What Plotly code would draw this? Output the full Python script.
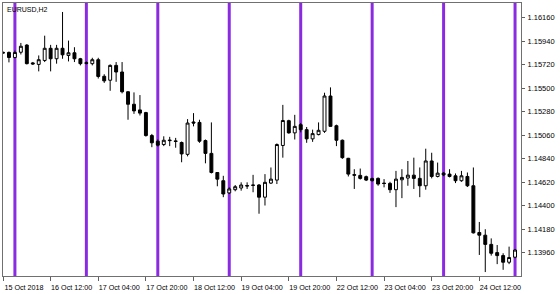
import pandas as pd
import plotly.graph_objects as go

symbol_label = "EURUSD,H2"

open_ = [1.15835, 1.15834, 1.15787, 1.15836, 1.15903, 1.15736, 1.15722, 1.15759, 1.15873, 1.15775,
         1.15873, 1.15806, 1.15831, 1.15775, 1.15738, 1.15729, 1.15766, 1.15611, 1.15574, 1.15713,
         1.15651, 1.15466, 1.15349, 1.15296, 1.15271, 1.15056, 1.15003, 1.14972, 1.15014, 1.15006,
         1.14991, 1.14880, 1.15183, 1.15179, 1.15009, 1.14889, 1.14710, 1.14633, 1.14519, 1.14549,
         1.14565, 1.14588, 1.14593, 1.14593, 1.14479, 1.14611, 1.14639, 1.14963, 1.15195, 1.15081,
         1.15158, 1.15111, 1.15025, 1.15065, 1.15096, 1.15426, 1.15148, 1.15012, 1.14843, 1.14690,
         1.14683, 1.14671, 1.14653, 1.14655, 1.14611, 1.14608, 1.14549, 1.14642, 1.14658, 1.14685,
         1.14655, 1.14586, 1.14818, 1.14673, 1.14704, 1.14695, 1.14679, 1.14633, 1.14673, 1.14586,
         1.14148, 1.14123, 1.14037, 1.13960, 1.13932, 1.13870, 1.13917]
high_ = [1.15843, 1.15843, 1.15852, 1.15923, 1.15912, 1.15745, 1.15806, 1.15991, 1.15905, 1.15905,
         1.16213, 1.15945, 1.15883, 1.15783, 1.15750, 1.15784, 1.15784, 1.15630, 1.15722, 1.15744,
         1.15744, 1.15472, 1.15460, 1.15435, 1.15278, 1.15071, 1.15019, 1.15049, 1.15044, 1.15034,
         1.15000, 1.15210, 1.15266, 1.15204, 1.15019, 1.15179, 1.14713, 1.14679, 1.14571, 1.14593,
         1.14618, 1.14618, 1.14688, 1.14602, 1.14695, 1.14757, 1.14982, 1.15343, 1.15204, 1.15250,
         1.15173, 1.15136, 1.15111, 1.15179, 1.15457, 1.15507, 1.15158, 1.15019, 1.14847, 1.14741,
         1.14747, 1.14681, 1.14662, 1.14664, 1.14648, 1.14623, 1.14725, 1.14741, 1.14818, 1.14849,
         1.14757, 1.14933, 1.14895, 1.14803, 1.14713, 1.14741, 1.14701, 1.14725, 1.14710, 1.14757,
         1.14247, 1.14179, 1.14093, 1.14031, 1.13954, 1.14016, 1.13994]
low_ = [1.15824, 1.15741, 1.15778, 1.15815, 1.15722, 1.15718, 1.15657, 1.15744, 1.15657, 1.15729,
        1.15775, 1.15750, 1.15744, 1.15713, 1.15722, 1.15713, 1.15590, 1.15549, 1.15475, 1.15559,
        1.15451, 1.15204, 1.15259, 1.15244, 1.15046, 1.14947, 1.14954, 1.14957, 1.14957, 1.14942,
        1.14806, 1.14861, 1.15142, 1.14988, 1.14796, 1.14701, 1.14581, 1.14479, 1.14509, 1.14534,
        1.14540, 1.14556, 1.14525, 1.14324, 1.14401, 1.14602, 1.14602, 1.14849, 1.15074, 1.15019,
        1.15086, 1.14988, 1.14997, 1.15058, 1.15081, 1.15139, 1.14957, 1.14838, 1.14673, 1.14556,
        1.14644, 1.14630, 1.14625, 1.14586, 1.14571, 1.14519, 1.14386, 1.14470, 1.14586, 1.14556,
        1.14479, 1.14549, 1.14655, 1.14664, 1.14676, 1.14664, 1.14611, 1.14623, 1.14574, 1.14139,
        1.13938, 1.13778, 1.13932, 1.13852, 1.13799, 1.13852, 1.13907]
close_ = [1.15829, 1.15787, 1.15834, 1.15892, 1.15729, 1.15727, 1.15766, 1.15873, 1.15775, 1.15873,
          1.15812, 1.15831, 1.15775, 1.15729, 1.15732, 1.15766, 1.15609, 1.15568, 1.15713, 1.15651,
          1.15466, 1.15349, 1.15287, 1.15266, 1.15056, 1.14988, 1.14966, 1.15012, 1.15009, 1.15001,
          1.14884, 1.15173, 1.15173, 1.15003, 1.14889, 1.14710, 1.14648, 1.14509, 1.14556, 1.14577,
          1.14593, 1.14584, 1.14590, 1.14479, 1.14618, 1.14648, 1.14972, 1.15197, 1.15081, 1.15142,
          1.15111, 1.15025, 1.15074, 1.15105, 1.15426, 1.15142, 1.15012, 1.14849, 1.14695, 1.14685,
          1.14655, 1.14639, 1.14634, 1.14602, 1.14607, 1.14549, 1.14648, 1.14664, 1.14685, 1.14655,
          1.14586, 1.14818, 1.14673, 1.14704, 1.14688, 1.14673, 1.14633, 1.14679, 1.14586, 1.14145,
          1.14123, 1.14037, 1.13954, 1.13932, 1.13870, 1.13914, 1.13984]

price_ticks = [1.13960, 1.14180, 1.14400, 1.14620, 1.14840, 1.15060,
               1.15280, 1.15500, 1.15720, 1.15940, 1.16160]
y_range = [1.13741, 1.16297]

# bar timestamps: H2 bars from 15 Oct 2018 20:00, weekends skipped
times = []
t = pd.Timestamp("2018-10-15 20:00")
while len(times) < len(open_):
    if t.weekday() < 5:
        times.append(t)
    t += pd.Timedelta(hours=2)

idx = list(range(len(times)))
day_bars = [i for i, tt in enumerate(times) if tt.hour == 0]
label_bars = list(range(0, len(times), 8))[:11]
label_text = []
for k, i in enumerate(label_bars):
    tt = times[i]
    if k == 0:
        label_text.append(tt.strftime("%-d %b %Y"))
    else:
        label_text.append(tt.strftime("%-d %b %H:%M"))

FONT = "Liberation Sans, Arial, sans-serif"

fig = go.Figure()
fig.add_trace(go.Candlestick(
    x=idx, open=open_, high=high_, low=low_, close=close_,
    increasing=dict(line=dict(color="black", width=1), fillcolor="white"),
    decreasing=dict(line=dict(color="black", width=1), fillcolor="black"),
    whiskerwidth=0, hoverinfo="skip", showlegend=False,
))

for b in day_bars:
    fig.add_shape(type="line", xref="x", yref="paper", x0=b, x1=b, y0=0, y1=1,
                  line=dict(color="#8A2BE2", width=3), layer="below")

fig.add_annotation(text=symbol_label, xref="paper", yref="paper", x=0, y=1,
                   xanchor="left", yanchor="top", xshift=2, yshift=-1, showarrow=False,
                   font=dict(family=FONT, size=7, color="black"))

fig.update_layout(
    width=560, height=294,
    margin=dict(l=2, r=39, t=2, b=16),
    paper_bgcolor="white", plot_bgcolor="white",
    showlegend=False, boxgap=0.3,
    font=dict(family=FONT, size=7, color="black"),
    xaxis=dict(range=[0.0, 87.0], rangeslider=dict(visible=False),
               tickvals=label_bars, ticktext=label_text,
               ticks="outside", ticklen=4, tickcolor="#606060", tickwidth=1,
               ticklabelshift=21, ticklabelstandoff=0,
               showgrid=False, zeroline=False,
               showline=True, linecolor="#707070", linewidth=1, mirror=True,
               tickfont=dict(family=FONT, size=7.2, color="black")),
    yaxis=dict(range=y_range, side="right", tickvals=price_ticks,
               ticktext=[f"{v:.5f}" for v in price_ticks],
               ticks="outside", ticklen=3, tickcolor="#606060", tickwidth=1,
               ticklabelstandoff=1,
               showgrid=False, zeroline=False,
               showline=True, linecolor="#707070", linewidth=1, mirror=True,
               tickfont=dict(family=FONT, size=7.5, color="black")),
)

fig.write_html("out.html")
